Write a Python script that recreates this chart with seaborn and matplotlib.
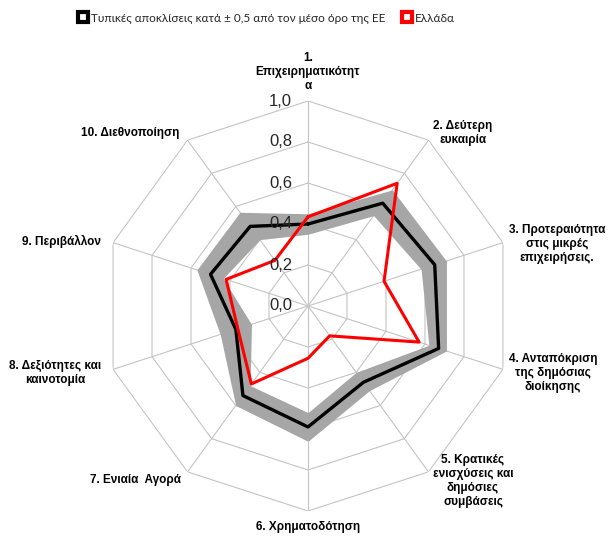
import numpy as np
import pandas as pd
import seaborn as sns
import matplotlib.pyplot as plt
from matplotlib.lines import Line2D

# Data
categories = [
    "1.\nΕπιχειρηματικότητ\nα",
    "2. Δεύτερη\nευκαιρία",
    "3. Προτεραιότητα\nστις μικρές\nεπιχειρήσεις.",
    "4. Ανταπόκριση\nτης δημόσιας\nδιοίκησης",
    "5. Κρατικές\nενισχύσεις και\nδημόσιες\nσυμβάσεις",
    "6. Χρηματοδότηση",
    "7. Ενιαία  Αγορά",
    "8. Δεξιότητες και\nκαινοτομία",
    "9. Περιβάλλον",
    "10. Διεθνοποίηση",
]
eu_mean = [0.40, 0.62, 0.65, 0.67, 0.46, 0.59, 0.54, 0.37, 0.50, 0.48]
eu_low = [0.35, 0.545, 0.58, 0.62, 0.40, 0.52, 0.48, 0.29, 0.435, 0.40]
eu_high = [0.45, 0.70, 0.71, 0.71, 0.51, 0.66, 0.60, 0.45, 0.57, 0.565]
greece = [0.435, 0.74, 0.39, 0.57, 0.18, 0.255, 0.47, 0.36, 0.42, 0.275]
levels = [0.2, 0.4, 0.6, 0.8, 1.0]
tick_values = [0.0, 0.2, 0.4, 0.6, 0.8, 1.0]
tick_labels = ["0,0", "0,2", "0,4", "0,6", "0,8", "1,0"]
legend_labels = ["Τυπικές αποκλίσεις κατά ± 0,5 από τον μέσο όρο της ΕΕ", "Ελλάδα"]

# label centres in pixels (layout only)
label_pos = [(308, 72), (463, 133), (557, 244), (553, 373), (473, 481),
             (308, 527), (135, 480), (55, 373), (62, 241), (130, 133)]

sns.set_style("white")
plt.rcParams["font.family"] = ["Liberation Sans", "DejaVu Sans"]

W, H = 608, 536
fig = plt.figure(figsize=(W / 100, H / 100), dpi=100)
cx, cy, R = 308, 306, 205
ax = fig.add_axes([(cx - R) / W, (H - cy - R) / H, 2 * R / W, 2 * R / H], projection="polar")
ax.set_theta_zero_location("N")
ax.set_theta_direction(-1)
ax.set_ylim(0, 1)
ax.grid(False)
ax.set_xticks([])
ax.set_yticks([])
ax.spines["polar"].set_visible(False)
ax.patch.set_alpha(0)

n = len(categories)
theta = np.linspace(0, 2 * np.pi, n, endpoint=False)
theta_c = np.append(theta, theta[0])

def closed(v):
    return np.append(v, v[0])

# polygon grid
grid_col = "#c4c4c4"
for lv in levels:
    ax.plot(theta_c, [lv] * (n + 1), color=grid_col, lw=0.8, zorder=1)
for t in theta:
    ax.plot([t, t], [0, 1], color=grid_col, lw=0.8, zorder=1)

# band
ax.fill_between(theta_c, closed(eu_low), closed(eu_high), color="#a6a6a6", lw=0, zorder=2)

df = pd.DataFrame({
    "theta": np.concatenate([theta_c, theta_c]),
    "value": np.concatenate([closed(eu_mean), closed(greece)]),
    "series": [legend_labels[0]] * (n + 1) + [legend_labels[1]] * (n + 1),
})
sns.lineplot(data=df[df.series == legend_labels[0]], x="theta", y="value", sort=False,
             estimator=None, color="black", lw=2.4, ax=ax, legend=False, zorder=3)
sns.lineplot(data=df[df.series == legend_labels[1]], x="theta", y="value", sort=False,
             estimator=None, color="#ff0000", lw=2.2, ax=ax, legend=False, zorder=4)
ax.set_xlabel("")
ax.set_ylabel("")
ax.set_ylim(0, 1)

# radial tick labels
for v, lab in zip(tick_values, tick_labels):
    ax.annotate(lab, xy=(0, v), xytext=(-11.5, 0), textcoords="offset points",
                ha="right", va="center", fontsize=12, color="#262626", zorder=5)

# category labels
for lab, (px, py) in zip(categories, label_pos):
    fig.text(px / W, 1 - py / H, lab, ha="center", va="center", fontsize=8.5,
             fontweight="bold", linespacing=1.2, color="black")

handles = [
    Line2D([], [], ls="none", marker="s", markersize=7, markerfacecolor="white",
           markeredgecolor="black", markeredgewidth=3),
    Line2D([], [], ls="none", marker="s", markersize=7, markerfacecolor="white",
           markeredgecolor="#ff0000", markeredgewidth=3),
]
fig.legend(handles, legend_labels, loc="center", bbox_to_anchor=(266 / W, 1 - 18 / H),
           ncol=2, frameon=False, handletextpad=0.15, columnspacing=1.3, handlelength=1.0,
           prop={"family": ["Lato", "DejaVu Sans"], "size": 8.5})

fig.savefig("out.png", dpi=100)
